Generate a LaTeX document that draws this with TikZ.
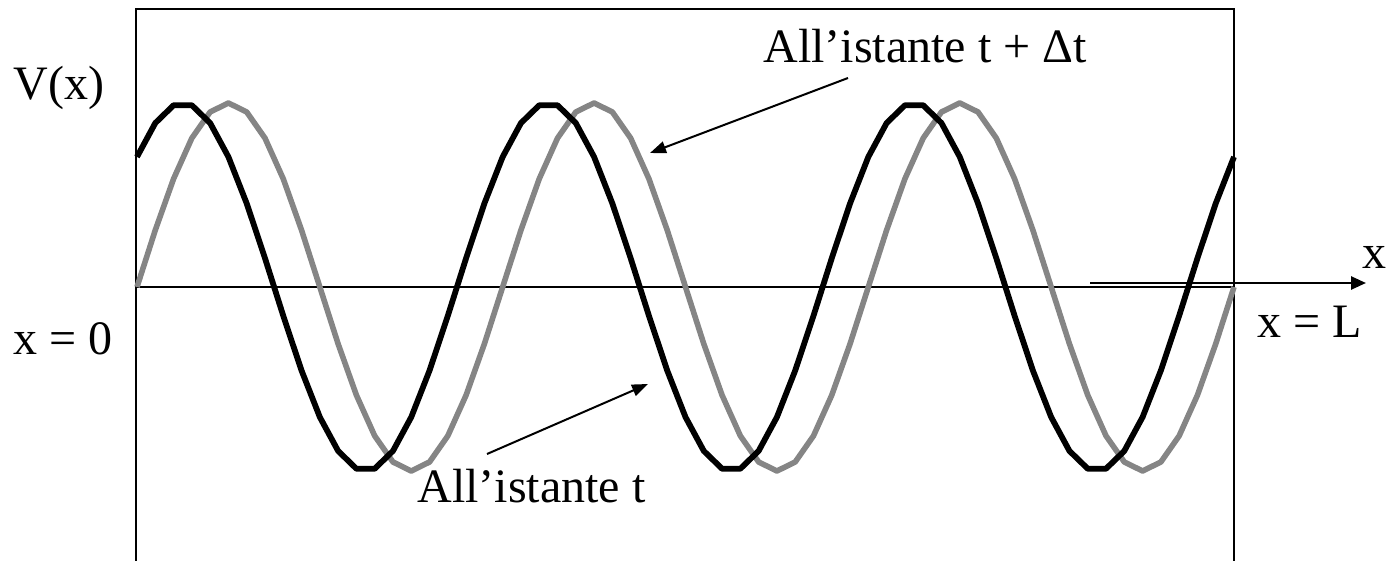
\documentclass[tikz,border=0pt]{standalone}
\usepackage{fontspec}
\setmainfont{Liberation Serif}
\usetikzlibrary{arrows.meta}
\begin{document}
\begin{tikzpicture}[x=0.5pt,y=-0.5pt,
  lbl/.style={inner sep=0pt, anchor=base west, font=\fontsize{24}{28}\selectfont},
  framestyle/.style={line width=1pt, black},
  axisline/.style={line width=0.65pt, black},
  pointer/.style={line width=1pt, -{Triangle[length=8pt,width=6pt]}},
  axisarrow/.style={line width=1.3pt, -{Triangle[length=7.5pt,width=6.5pt]}},
  wavet/.style={line width=2.9pt, black},
  wavedt/.style={line width=2.8pt, black!48}]
\useasboundingbox (0,0) rectangle (1387,561);
% frame
\draw[framestyle] (136,561) -- (136,9) -- (1234,9) -- (1234,561);
% thin axis
\coordinate (a0) at (136,287);
\coordinate (aL) at (1234,287);
\draw[axisline] (a0) -- (aL);
% waves
\draw[wavedt, line join=round] plot[domain=0:60, samples=61] ({137+\x*18.2833}, {287-184*sin(\x*18)});
\draw[wavet, line join=round] plot[domain=0:60, samples=61] ({137+\x*18.2833}, {287-184*sin(\x*18+45)});
% axis arrow
\coordinate (xs) at (1090,283);
\coordinate (xe) at (1366,283);
\draw[axisarrow] (xs) -- (xe);
% labels
\node[lbl] (vx) at (13,100) {V(x)};
\node[lbl] (x0) at (13,354) {x = 0};
\node[lbl] (xL) at (1257,337) {x = L};
\node[lbl] (xx) at (1362,269) {x};
\node[lbl] (tdt) at (763,63) {All’istante t + Δt};
\node[lbl] (tt) at (417,502) {All’istante t};
% pointers
\coordinate (p1s) at (848,78);
\coordinate (p1e) at (650,153);
\coordinate (p2s) at (487,454);
\coordinate (p2e) at (648,384);
\draw[pointer] (p1s) -- (p1e);
\draw[pointer] (p2s) -- (p2e);
\end{tikzpicture}
\end{document}
